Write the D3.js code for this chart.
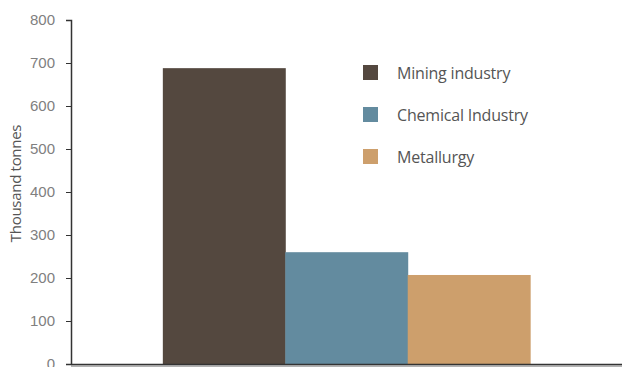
<!DOCTYPE html>
<html>
<head>
<meta charset="utf-8">
<script src="https://cdn.jsdelivr.net/npm/d3@7"></script>
<style>
  body { margin: 0; background: #fff; }
</style>
</head>
<body>
<div id="chart-area"></div>
<script>
var categories = ["Industry"];
var series = ["Mining industry", "Chemical Industry", "Metallurgy"];
var values = [688, 260, 207];
var colors = ["#54483f", "#638b9f", "#cd9f6c"];
var yTicks = [0, 100, 200, 300, 400, 500, 600, 700, 800];

var margin = {left: 71, right: 0, top: 20, bottom: 3};
var width = 622 - margin.left - margin.right,
    height = 367 - margin.top - margin.bottom;

var svg = d3.select("#chart-area")
    .append("svg")
      .attr("width", width + margin.left + margin.right)
      .attr("height", height + margin.top + margin.bottom);

var group = svg.append("g")
    .attr("transform", "translate(" + margin.left + ", " + margin.top + ")");

// scales
var x0 = d3.scaleBand()
    .domain(categories)
    .range([0, width])
    .paddingInner(0)
    .paddingOuter(0.25);

var x1 = d3.scaleBand()
    .domain(series)
    .range([0, x0.bandwidth()]);

var y = d3.scaleLinear()
    .domain([0, 800])
    .range([height, 0]);

// bars
var data = series.map(function(s, i){ return {name: s, value: values[i], color: colors[i]}; });

group.append("g")
    .attr("transform", "translate(" + x0(categories[0]) + ",0)")
  .selectAll("rect")
    .data(data)
  .enter()
    .append("rect")
    .attr("x", function(d){ return x1(d.name) })
    .attr("y", function(d){ return y(d.value) })
    .attr("width", x1.bandwidth() + 0.5)
    .attr("height", function(d){ return height - y(d.value) })
    .attr("fill", function(d){ return d.color });

// y axis
var yAxisCall = d3.axisLeft(y)
    .tickValues(yTicks)
    .tickSize(5)
    .tickPadding(11);
var yAxis = group.append("g")
    .attr("class", "y axis")
    .call(yAxisCall);
yAxis.select(".domain").attr("stroke", "#333").attr("stroke-width", 1.5);
yAxis.selectAll(".tick line").attr("stroke", "#333");
yAxis.selectAll("text")
    .attr("fill", "#808080")
    .style("font-family", "'Liberation Sans', Arial, sans-serif")
    .style("font-size", "15px");

// x axis line
group.append("line")
    .attr("x1", 0)
    .attr("x2", width)
    .attr("y1", height + 0.5)
    .attr("y2", height + 0.5)
    .attr("stroke", "#333")
    .attr("stroke-width", 1.5);
group.append("line")
    .attr("x1", 0)
    .attr("x2", width)
    .attr("y1", height + 2)
    .attr("y2", height + 2)
    .attr("stroke", "#999")
    .attr("stroke-width", 1.5);

// y label
svg.append("text")
    .attr("transform", "translate(21,183.5) rotate(-90)")
    .attr("text-anchor", "middle")
    .attr("fill", "#555")
    .style("font-family", "'Open Sans', sans-serif")
    .style("font-size", "15px")
    .style("letter-spacing", "-0.3px")
    .text("Thousand tonnes");

// legend
var legend = svg.append("g")
    .attr("transform", "translate(363,65)");
var items = legend.selectAll("g")
    .data(data)
  .enter()
    .append("g")
    .attr("transform", function(d, i){ return "translate(0," + (i * 42) + ")" });
items.append("rect")
    .attr("width", 15)
    .attr("height", 15)
    .attr("fill", function(d){ return d.color });
items.append("text")
    .attr("x", 34)
    .attr("y", 14)
    .attr("fill", "#555")
    .style("font-family", "'Open Sans', sans-serif")
    .style("font-size", "16px")
    .style("letter-spacing", "-0.2px")
    .text(function(d){ return d.name });
</script>
</body>
</html>
